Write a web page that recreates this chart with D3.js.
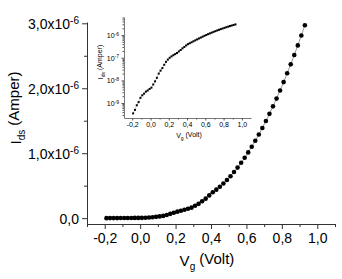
<!DOCTYPE html>
<html>
<head>
<meta charset="utf-8">
<script src="https://cdn.jsdelivr.net/npm/d3@7"></script>
<style>
  body { margin: 0; background: #fff; }
  text { font-family: "Liberation Sans", Arial, sans-serif; fill: #000; }
</style>
</head>
<body>
<div id="container"></div>
<script>
/* DATA */
const vg = [-0.19, -0.17, -0.15, -0.13, -0.11, -0.09, -0.07, -0.05, -0.03, -0.01,
  0.01, 0.03, 0.05, 0.07, 0.09, 0.11, 0.13, 0.15, 0.17, 0.19,
  0.21, 0.23, 0.25, 0.27, 0.29, 0.31, 0.33, 0.35, 0.37, 0.39,
  0.41, 0.43, 0.45, 0.47, 0.49, 0.51, 0.53, 0.55, 0.57, 0.59,
  0.61, 0.63, 0.65, 0.67, 0.69, 0.71, 0.73, 0.75, 0.77, 0.79,
  0.81, 0.83, 0.85, 0.87, 0.89, 0.91, 0.93];
const ids = [3.5e-10, 5e-10, 8e-10, 1.1e-9, 1.7e-9, 2.2e-9, 2.6e-9, 3.2e-9, 3.6e-9, 4.2e-9,
  4.8e-9, 6.6e-9, 9.1e-9, 1.3e-8, 2.0e-8, 2.7e-8, 3.5e-8, 4.9e-8, 6.6e-8, 8.3e-8,
  1.0e-7, 1.15e-7, 1.3e-7, 1.45e-7, 1.62e-7, 1.9e-7, 2.2e-7, 2.6e-7, 3.0e-7, 3.5e-7,
  3.98e-7, 4.39e-7, 4.83e-7, 5.33e-7, 5.87e-7, 6.46e-7, 7.10e-7, 7.78e-7, 8.52e-7, 9.29e-7,
  1.012e-6, 1.099e-6, 1.191e-6, 1.288e-6, 1.389e-6, 1.495e-6, 1.606e-6, 1.721e-6, 1.841e-6, 1.966e-6,
  2.095e-6, 2.230e-6, 2.368e-6, 2.512e-6, 2.660e-6, 2.813e-6, 2.970e-6];

const xTicks = [-0.2, 0.0, 0.2, 0.4, 0.6, 0.8, 1.0];
const xMinor = [-0.3, -0.1, 0.1, 0.3, 0.5, 0.7, 0.9, 1.1];
const yTicks = [0, 1e-6, 2e-6, 3e-6];
const yMinor = [0.5e-6, 1.5e-6, 2.5e-6];
const insetXTicks = [-0.2, 0.0, 0.2, 0.4, 0.6, 0.8, 1.0];
const insetYTicks = [1e-9, 1e-8, 1e-7, 1e-6];

const data = vg.map((v, i) => ({ v: v, i: ids[i] }));

const W = 342, H = 279;
const svg = d3.select('#container').append('svg')
  .attr('width', W).attr('height', H);

const fmt = v => d3.format('.1f')(v).replace('.', ',').replace('−', '-');

/* MAIN CHART */
const x = d3.scaleLinear().domain([-0.3, 1.1]).range([87, 335]);
const y = d3.scaleLinear().domain([-0.09e-6, 3.02e-6]).range([224, 22]);

const axisColor = '#333';

// minor ticks
svg.append('g').attr('transform', 'translate(0,224)')
  .call(d3.axisBottom(x).tickValues(xMinor).tickSize(3).tickFormat(''))
  .call(g => g.select('.domain').remove())
  .selectAll('line').attr('stroke', axisColor);
svg.append('g').attr('transform', 'translate(87,0)')
  .call(d3.axisLeft(y).tickValues(yMinor).tickSize(3).tickFormat(''))
  .call(g => g.select('.domain').remove())
  .selectAll('line').attr('stroke', axisColor);

const xAxis = svg.append('g').attr('transform', 'translate(0,224)')
  .call(d3.axisBottom(x).tickValues(xTicks).tickSize(5).tickSizeOuter(0).tickPadding(4).tickFormat(fmt));
xAxis.select('.domain').attr('stroke', axisColor);
xAxis.selectAll('line').attr('stroke', axisColor);
xAxis.selectAll('text').attr('font-size', 14).attr('font-family', '"Liberation Sans", Arial, sans-serif');

const yAxis = svg.append('g').attr('transform', 'translate(87,0)')
  .call(d3.axisLeft(y).tickValues(yTicks).tickSize(5).tickSizeOuter(0).tickPadding(3).tickFormat(''));
yAxis.select('.domain').attr('stroke', axisColor);
yAxis.selectAll('line').attr('stroke', axisColor);
yAxis.selectAll('.tick').each(function(d) {
  const t = d3.select(this).append('text')
    .attr('x', -8).attr('dy', '0.35em')
    .attr('text-anchor', 'end')
    .attr('font-size', 14);
  if (d === 0) {
    t.text('0,0');
  } else {
    t.append('tspan').text(fmt(d / 1e-6) + 'x10');
    t.append('tspan').attr('dy', '-0.5em').attr('font-size', 10).text('-6');
  }
});

// connecting line + dots
const line = d3.line().x(d => x(d.v)).y(d => y(d.i));
svg.append('path').datum(data)
  .attr('d', line).attr('fill', 'none')
  .attr('stroke', '#999').attr('stroke-width', 1);
svg.selectAll('circle.dot').data(data).join('circle')
  .attr('class', 'dot')
  .attr('cx', d => x(d.v)).attr('cy', d => y(d.i))
  .attr('r', 2.3).attr('fill', '#000');

// axis labels
const xl = svg.append('text').attr('x', 207).attr('y', 266)
  .attr('text-anchor', 'middle').attr('font-size', 15);
xl.append('tspan').text('V');
xl.append('tspan').attr('dy', '0.35em').attr('font-size', 10).text('g');
xl.append('tspan').attr('dy', '-0.35em').text(' (Volt)');

const yl = svg.append('text')
  .attr('transform', 'translate(21,108) rotate(-90)')
  .attr('text-anchor', 'middle').attr('font-size', 15);
yl.append('tspan').text('I');
yl.append('tspan').attr('dy', '0.35em').attr('font-size', 10).text('ds');
yl.append('tspan').attr('dy', '-0.35em').text(' (Amper)');

/* INSET */
const xi = d3.scaleLinear().domain([-0.29, 1.1]).range([124, 251]);
const yi = d3.scaleLog().domain([Math.pow(10, -9.66), Math.pow(10, -5.2)]).range([118, 17]);
const insetColor = '#555';

const yMinorLog = [];
[-10, -9, -8, -7, -6].forEach(e => {
  for (let k = 2; k <= 9; k++) {
    const val = k * Math.pow(10, e);
    if (val > yi.domain()[0] && val < yi.domain()[1]) yMinorLog.push(val);
  }
});

svg.append('g').attr('transform', 'translate(0,118)')
  .call(d3.axisBottom(xi).tickValues([-0.1, 0.1, 0.3, 0.5, 0.7, 0.9]).tickSize(1.5).tickFormat(''))
  .call(g => g.select('.domain').remove())
  .selectAll('line').attr('stroke', insetColor);
svg.append('g').attr('transform', 'translate(124,0)')
  .call(d3.axisLeft(yi).tickValues(yMinorLog).tickSize(1.5).tickFormat(''))
  .call(g => g.select('.domain').remove())
  .selectAll('line').attr('stroke', insetColor);

const xiAxis = svg.append('g').attr('transform', 'translate(0,118)')
  .call(d3.axisBottom(xi).tickValues(insetXTicks).tickSize(2.5).tickSizeOuter(0).tickPadding(2).tickFormat(fmt));
xiAxis.select('.domain').attr('stroke', insetColor).attr('stroke-width', 0.8);
xiAxis.selectAll('line').attr('stroke', insetColor);
xiAxis.selectAll('text').attr('font-size', 7).attr('font-family', '"Liberation Sans", Arial, sans-serif').attr('fill', '#222');

const yiAxis = svg.append('g').attr('transform', 'translate(124,0)')
  .call(d3.axisLeft(yi).tickValues(insetYTicks).tickSize(2.5).tickSizeOuter(0).tickFormat(''));
yiAxis.select('.domain').attr('stroke', insetColor).attr('stroke-width', 0.8);
yiAxis.selectAll('line').attr('stroke', insetColor);
yiAxis.selectAll('.tick').each(function(d) {
  const t = d3.select(this).append('text')
    .attr('x', -5).attr('dy', '0.35em')
    .attr('text-anchor', 'end').attr('font-size', 7).attr('fill', '#222');
  t.append('tspan').text('10');
  t.append('tspan').attr('dy', '-0.5em').attr('font-size', 5).text(Math.round(Math.log10(d)));
});

svg.append('path').datum(data)
  .attr('d', d3.line().x(d => xi(d.v)).y(d => yi(d.i)))
  .attr('fill', 'none').attr('stroke', '#aaa').attr('stroke-width', 0.6);
svg.selectAll('rect.idot').data(data).join('rect')
  .attr('class', 'idot')
  .attr('x', d => xi(d.v) - 1).attr('y', d => yi(d.i) - 1)
  .attr('width', 2).attr('height', 2).attr('fill', '#000');

const xil = svg.append('text').attr('x', 189).attr('y', 138)
  .attr('text-anchor', 'middle').attr('font-size', 7).attr('fill', '#222');
xil.append('tspan').text('V');
xil.append('tspan').attr('dy', '0.35em').attr('font-size', 5).text('g');
xil.append('tspan').attr('dy', '-0.35em').text(' (Volt)');

const yil = svg.append('text')
  .attr('transform', 'translate(103,62) rotate(-90)')
  .attr('text-anchor', 'middle').attr('font-size', 7).attr('fill', '#222');
yil.append('tspan').text('I');
yil.append('tspan').attr('dy', '0.35em').attr('font-size', 5).text('ds');
yil.append('tspan').attr('dy', '-0.35em').text(' (Amper)');
</script>
</body>
</html>
